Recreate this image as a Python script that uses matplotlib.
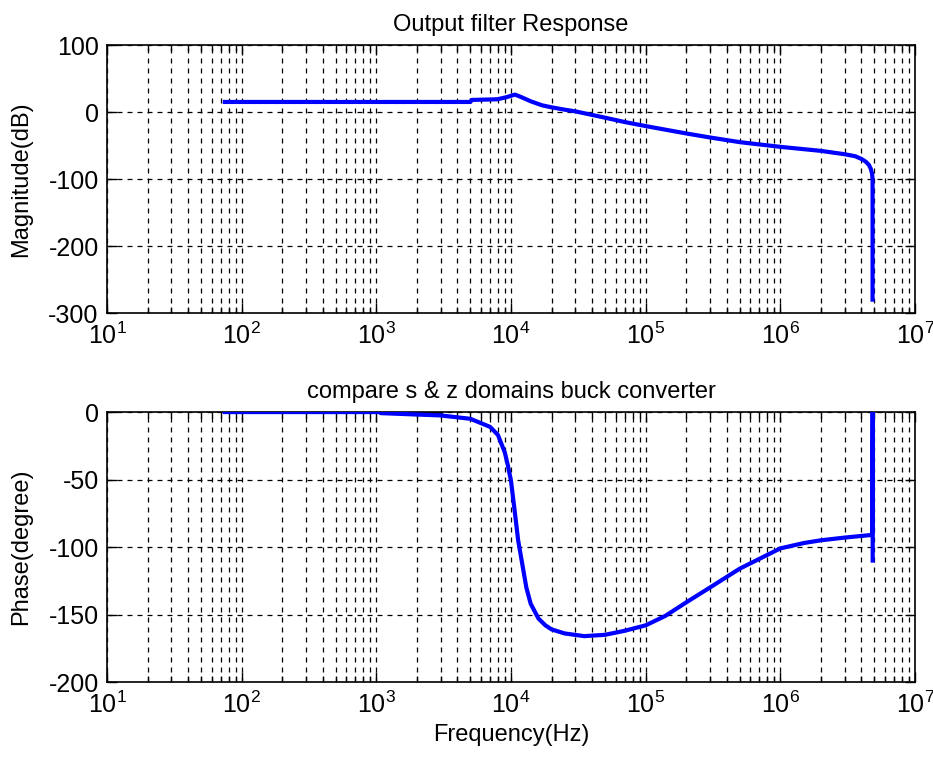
import matplotlib.pyplot as plt
import matplotlib.ticker as mticker
import numpy as np

plt.rcParams['font.family'] = ['Liberation Sans', 'DejaVu Sans']
plt.rcParams['axes.unicode_minus'] = False

# magnitude response
mag_freq = [75, 1000, 5000, 5100, 7900, 9200, 10700, 12000, 14000, 17000,
            20000, 25000, 30000, 50000, 70000, 100000, 200000, 300000,
            500000, 1000000, 2000000, 3000000, 3600000, 4000000, 4300000,
            4550000, 4700000, 4800000, 4840000, 4840000]
mag_db = [15, 15, 15, 18, 19, 22, 26, 22, 16, 10,
          7, 3.5, 1, -8.5, -15, -21, -32, -38,
          -45, -52, -58, -63, -66, -70, -74,
          -79, -85, -92, -100, -280]

# phase response
ph_freq = [75, 1050, 1080, 3000, 5000, 7000, 8000, 9000, 9500, 10000,
           10700, 11300, 12000, 13000, 14000, 16000, 18000, 20000, 25000,
           35000, 50000, 70000, 100000, 140000, 200000, 300000, 500000,
           1000000, 1500000, 2000000, 3000000, 4800000, 4850000, 4850000]
ph_deg = [0, 0, -0.8, -2.5, -5, -11, -17, -30, -40, -51,
          -75, -95, -110, -130, -142, -153, -158, -161, -164,
          -166, -165, -162, -158, -151, -141, -130, -116,
          -101, -97, -95, -93, -91, 0, -110]

# short pieces of the other traces that peek out from under the blue one
red_freq = [1870, 2100]
red_deg = [-1.2, -1.2]
blk_freq = [2200, 3000]
blk_deg = [-0.6, -0.6]

x_ticks = [1e1, 1e2, 1e3, 1e4, 1e5, 1e6, 1e7]
mag_ticks = [100, 0, -100, -200, -300]
ph_ticks = [0, -50, -100, -150, -200]

fig = plt.figure(figsize=(9.33, 7.59), dpi=100)
ax1 = fig.add_axes([0.1147, 0.5876, 0.8660, 0.3531])
ax2 = fig.add_axes([0.1147, 0.1014, 0.8660, 0.3557])

ax1.semilogx(mag_freq, mag_db, color='#0000ff', lw=3, zorder=3)
ax2.semilogx(red_freq, red_deg, color='#ff0000', lw=3, zorder=2)
ax2.semilogx(blk_freq, blk_deg, color='black', lw=3, zorder=2)
ax2.semilogx(ph_freq, ph_deg, color='#0000ff', lw=3, zorder=3)

ax1.set_ylim(-300, 100)
ax1.set_yticks(mag_ticks)
ax2.set_ylim(-200, 0)
ax2.set_yticks(ph_ticks)

for ax in (ax1, ax2):
    ax.set_xlim(10, 1e7)
    ax.xaxis.set_major_locator(mticker.FixedLocator(x_ticks))
    ax.xaxis.set_major_formatter(mticker.LogFormatterSciNotation())
    ax.xaxis.set_minor_locator(mticker.LogLocator(base=10, subs=np.arange(2, 10)))
    ax.xaxis.set_minor_formatter(mticker.NullFormatter())
    ax.grid(True, which='major', axis='both', color='black', ls=(0, (4, 4)), lw=0.9)
    ax.grid(True, which='minor', axis='x', color='black', ls=(0, (4, 4)), lw=0.9)
    ax.tick_params(which='both', direction='in', top=True, right=True,
                   labelsize=18, width=1)
    ax.tick_params(which='major', length=7)
    ax.tick_params(which='minor', length=4)
    ax.tick_params(axis='x', pad=7)
    ax.tick_params(axis='y', pad=6)
    for s in ax.spines.values():
        s.set_linewidth(1.2)

ax1.set_title('Output filter Response', fontsize=17, pad=10)
ax1.set_ylabel('Magnitude(dB)', fontsize=17, labelpad=12)
ax2.set_title('compare s & z domains buck converter', fontsize=17, pad=10)
ax2.set_ylabel('Phase(degree)', fontsize=17, labelpad=12)
ax2.set_xlabel('Frequency(Hz)', fontsize=17, labelpad=4)

fig.savefig('out.png', dpi=100)
